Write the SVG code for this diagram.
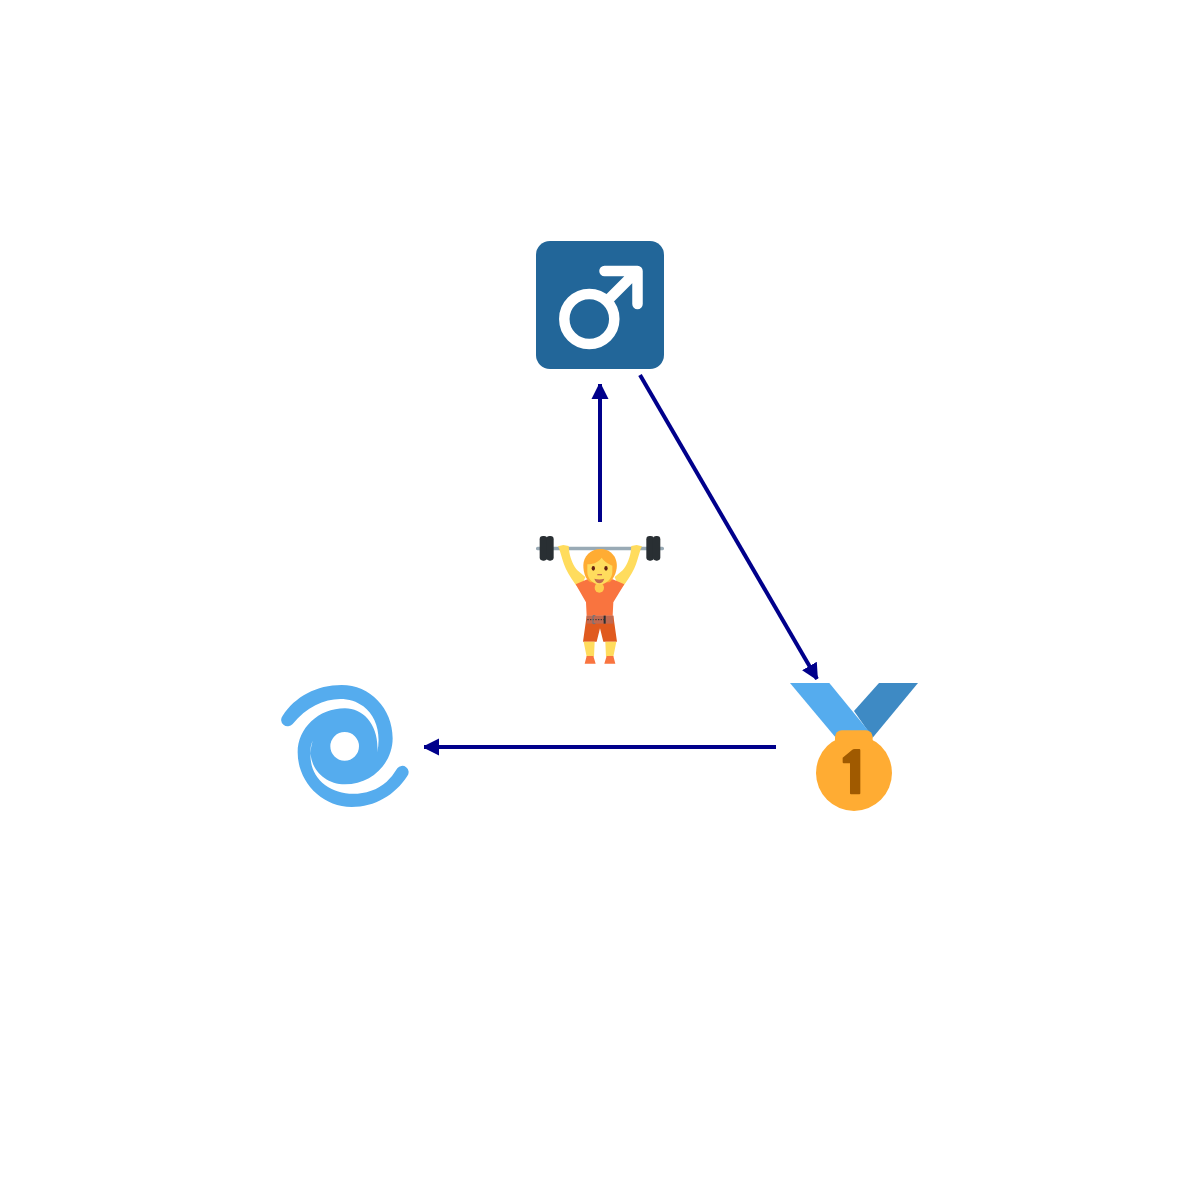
<svg xmlns="http://www.w3.org/2000/svg" width="1200" height="1200" viewBox="0 0 1200 1200">
<defs>
<marker id="head" markerUnits="userSpaceOnUse" markerWidth="18" markerHeight="20" refX="15" refY="10" orient="auto"><path d="M0,1.500 L15,9 V11 L0,18.500 Z" fill="#00008b"/></marker>
</defs>
<style>
.edge{stroke:#00008b;stroke-width:4;fill:none;marker-end:url(#head)}
</style>
<rect width="1200" height="1200" fill="#fff"/>
<g id="connectors">
<line class="edge" x1="640" y1="375" x2="817" y2="679"/>
<line class="edge" x1="600" y1="522" x2="600" y2="384"/>
<line class="edge" x1="776" y1="747" x2="424" y2="747"/>
</g>
<g id="male-sign">
<rect x="536" y="241" width="128" height="128" rx="14" fill="#226699"/>
<circle cx="589.3" cy="319" r="25" fill="none" stroke="#fff" stroke-width="10.500"/>
<path d="M607,301 L637,271 M604.500,271 H637.500 V304" fill="none" stroke="#fff" stroke-width="10.500" stroke-linecap="round" stroke-linejoin="round"/>
</g>
<g id="weightlifter" transform="translate(530,525) scale(0.3333)">
<rect x="18" y="65" width="384" height="11" rx="5" fill="#99aab5"/>
<rect x="29" y="33" width="23" height="74" rx="10" fill="#292f33"/>
<rect x="49" y="33" width="22" height="74" rx="10" fill="#292f33"/>
<rect x="349" y="33" width="23" height="74" rx="10" fill="#292f33"/>
<rect x="369" y="33" width="22" height="74" rx="10" fill="#292f33"/>
<path d="M84,64 L100,60 L116,63 L118,82 C122,105 132,125 142,136 L166,156 L150,195 L135,176 C120,155 108,135 102,118 C96,100 92,85 88,72 Z" fill="#ffdc5d"/>
<path d="M336,64 L320,60 L304,63 L302,82 C298,105 288,125 278,136 L254,156 L270,195 L285,176 C300,155 312,135 318,118 C324,100 328,85 332,72 Z" fill="#ffdc5d"/>
<path d="M137,178 L172,163 L248,163 L283,178 L250,232 L248,272 H170 L168,232 Z" fill="#f9743f"/>
<path d="M170,272 H250 L261,350 H220 L210,310 L200,350 H159 Z" fill="#e05a1e"/>
<rect x="170" y="272" width="80" height="24" fill="#c1694f"/>
<path d="M172,284 H222" stroke="#292f33" stroke-width="3" stroke-dasharray="4 4" fill="none"/>
<path d="M196,272 H189 V296 H196" stroke="#66757f" stroke-width="3" fill="none"/>
<rect x="221" y="272" width="6" height="24" fill="#292f33"/>
<path d="M161,350 H194 L192,395 H170 Z M226,350 H259 L250,395 H228 Z" fill="#ffdc5d"/>
<path d="M170,393 H190 L197,416 H164 Z M230,393 H250 L256,416 H223 Z" fill="#f9743f"/>
<ellipse cx="208" cy="188" rx="14" ry="15" fill="#ffcc4d"/>
<path d="M212,72 C245,72 264,100 260,130 C257,150 248,165 238,172 H182 C168,165 160,145 160,120 C160,95 182,72 212,72 Z" fill="#ffac33"/>
<path d="M172,118 C195,118 208,108 215,98 C225,112 238,118 247,122 V140 C247,162 228,178 209,178 C190,178 172,162 172,140 Z" fill="#ffdc5d"/>
<ellipse cx="190" cy="130" rx="5" ry="7" fill="#662113"/>
<ellipse cx="228" cy="130" rx="5" ry="7" fill="#662113"/>
<path d="M202,149 H216" stroke="#c1694f" stroke-width="4"/>
<path d="M193,161 Q208,166 223,161 Q218,175 208,175 Q198,175 193,161 Z" fill="#c1694f"/>
</g>
<g id="cyclone" transform="translate(270,675) scale(0.3333)">
<path fill-rule="evenodd" fill="#55acee" d="M38,122 C75,65 140,30 215,30 C300,30 368,100 368,190 C368,265 305,328 225,328 C170,328 128,290 122,240 C120,225 122,210 128,197 C112,250 125,300 165,330 C215,368 300,365 350,320 Q368,304 382,280 A18,18 0 0 1 412,303 C375,360 315,396 245,396 C155,396 83,320 83,232 C83,160 145,100 225,100 C280,100 328,150 322,232 C334,170 316,122 280,94 C225,52 130,70 68,147 A18,18 0 0 1 38,122 Z M224,171 A43,43 0 1 0 224,257 A43,43 0 1 0 224,171 Z"/>
</g>
<g id="medal" transform="translate(780,655) scale(0.3333)">
<path d="M297,84 H414 L278,248 L222,168 Z" fill="#3e8ac4"/>
<path d="M30,84 H148 L280,245 H165 Z" fill="#55acee"/>
<circle cx="222" cy="354" r="114" fill="#ffac33"/>
<rect x="165" y="226" width="113" height="60" rx="20" fill="#ffac33"/>
<path d="M216,285 Q219,282 224,282 H238 Q241,282 241,286 V415 Q241,418 238,418 H213 Q210,418 210,415 V325 H191 Q188,325 188,322 V308 Z" fill="#a05a00"/>
</g>
</svg>
